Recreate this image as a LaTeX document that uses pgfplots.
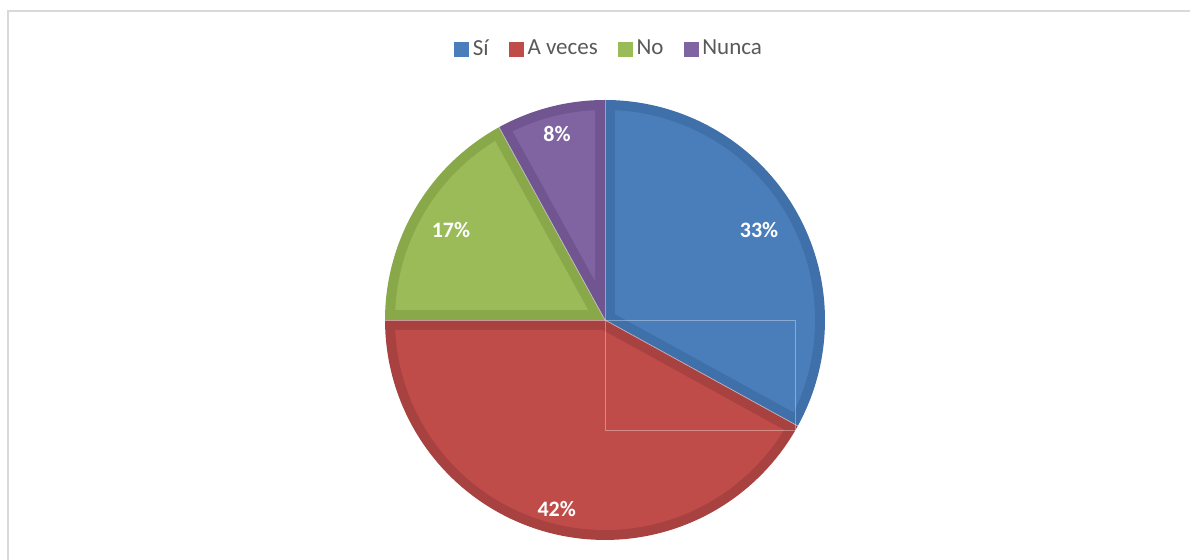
\documentclass[border=0pt]{standalone}
\usepackage{pgfplots}
\pgfplotsset{compat=1.18}
\usepackage{fontspec}
\setmainfont{Carlito}

\definecolor{siD}{RGB}{64,112,170}
\definecolor{siL}{RGB}{74,126,187}
\definecolor{avD}{RGB}{168,66,64}
\definecolor{avL}{RGB}{192,76,73}
\definecolor{noD}{RGB}{137,168,74}
\definecolor{noL}{RGB}{155,187,89}
\definecolor{nuD}{RGB}{112,85,145}
\definecolor{nuL}{RGB}{128,100,162}
\definecolor{txtgray}{RGB}{89,89,89}
\definecolor{framegray}{RGB}{217,217,217}

% pie geometry, in pixel units of the reference
\def\cx{605}\def\cy{240}\def\R{220}\def\inset{10}
\def\curstart{90}

% one slice: #1 percent, #2 border colour, #3 face colour, #4 label radius
\newcommand\slice[4]{%
  \pgfmathsetmacro\sHi{\curstart}%
  \pgfmathsetmacro\sLo{\curstart-3.6*#1}%
  \pgfmathsetmacro\sMid{(\sHi+\sLo)/2}%
  \pgfmathsetmacro\sHalf{(\sHi-\sLo)/2}%
  \pgfmathsetmacro\sPx{\cx+\inset/sin(\sHalf)*cos(\sMid)}%
  \pgfmathsetmacro\sPy{\cy+\inset/sin(\sHalf)*sin(\sMid)}%
  \pgfmathsetmacro\sDel{asin(\inset/(\R-\inset))}%
  \pgfmathsetmacro\sILo{\sLo+\sDel}%
  \pgfmathsetmacro\sIHi{\sHi-\sDel}%
  \pgfmathsetmacro\sRi{\R-\inset}%
  \pgfmathsetmacro\sLx{\cx+#4*cos(\sMid)}%
  \pgfmathsetmacro\sLy{\cy+#4*sin(\sMid)-1}%
  \pgfmathsetmacro\sEx{\cx+\R*cos(\sHi)}%
  \pgfmathsetmacro\sEy{\cy+\R*sin(\sHi)}%
  \edef\tmp{%
    \noexpand\addplot[fill=#2, draw=none, domain=\sLo:\sHi, samples=90, forget plot]
      ({\cx+\R*cos(x)},{\cy+\R*sin(x)}) -- (axis cs:\cx,\cy) -- cycle;
    \noexpand\addplot[fill=#3, draw=none, domain=\sILo:\sIHi, samples=90, forget plot]
      ({\cx+\sRi*cos(x)},{\cy+\sRi*sin(x)}) -- (axis cs:\sPx,\sPy) -- cycle;
    \noexpand\addplot[white, opacity=0.45, line width=0.4pt, forget plot]
      coordinates {(\cx,\cy) (\sEx,\sEy)};
    \noexpand\node[text=white, font=\noexpand\fontsize{11}{13}\noexpand\selectfont\noexpand\bfseries]
      at (axis cs:\sLx,\sLy) {#1\noexpand\%};
  }\tmp
  \global\let\curstart\sLo}

\begin{document}
\begin{tikzpicture}
\begin{axis}[
    scale only axis,
    width=595pt, height=280pt,
    xmin=0, xmax=1190, ymin=0, ymax=560,
    hide axis,
    legend columns=4,
    legend image code/.code={\fill[#1] (0pt,-3.5pt) rectangle (7pt,3.5pt);},
    legend style={at={(axis cs:610,511)}, anchor=center, draw=none, fill=none,
      font=\fontsize{11.5}{13}\selectfont, text=txtgray,
      /tikz/every even column/.append style={column sep=8pt}},
]
% frame
\draw[framegray, line width=1pt] (axis cs:7.5,0) -- (axis cs:7.5,548.5) -- (axis cs:1190,548.5);

\slice{33}{siD}{siL}{179}
\slice{42}{avD}{avL}{194}
\slice{17}{noD}{noL}{179}
\slice{8}{nuD}{nuL}{193}

% faint plot-area outline
\addplot[white, opacity=0.35, line width=0.4pt, forget plot]
  coordinates {(605,240) (795,240) (795,130) (605,130) (605,240)};

\addlegendimage{siL}\addlegendentry{Sí}
\addlegendimage{avL}\addlegendentry{A veces}
\addlegendimage{noL}\addlegendentry{No}
\addlegendimage{nuL}\addlegendentry{Nunca}
\end{axis}
\path (current axis.south west) rectangle (current axis.north east);
\end{tikzpicture}
\end{document}
